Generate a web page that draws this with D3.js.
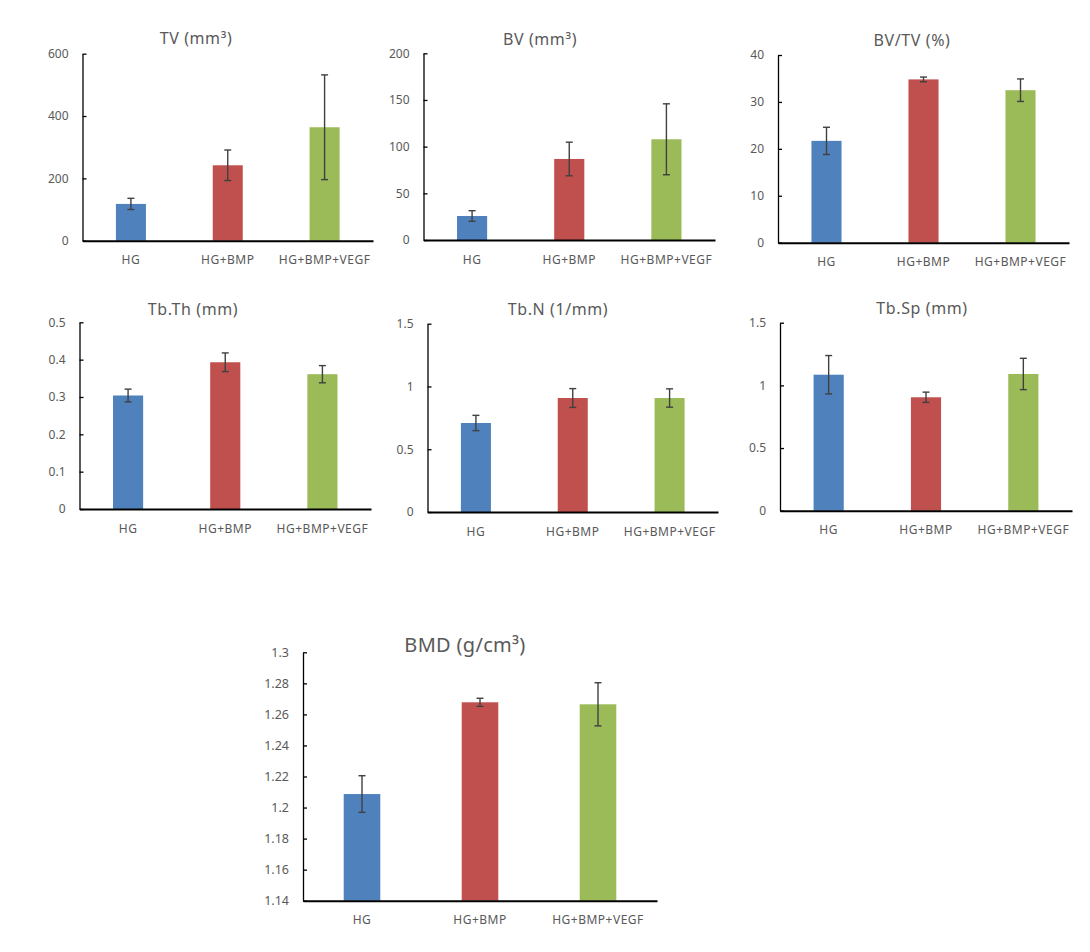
<!DOCTYPE html>
<html>
<head>
<meta charset="utf-8">
<script src="https://cdn.jsdelivr.net/npm/d3@7"></script>
<style>
  html, body { margin: 0; padding: 0; background: #fff; }
  svg { display: block; }
  text { font-family: "Noto Sans", "Open Sans", sans-serif; }
</style>
</head>
<body>
<svg id="chart" width="1090" height="952"></svg>
<script>
// ---------------- data ----------------
const categories = ["HG", "HG+BMP", "HG+BMP+VEGF"];
const colors = ["#4F81BD", "#C0504D", "#9BBB59"];

const titles = ["TV (mm\u00B3)", "BV (mm\u00B3)", "BV/TV (%)", "Tb.Th (mm)", "Tb.N (1/mm)", "Tb.Sp (mm)", "BMD (g/cm\u00B3)"];

const tvMean   = [118, 242, 364];
const tvErr    = [18, 49, 168];
const bvMean   = [25.7, 86.8, 107.9];
const bvErr    = [5.7, 18, 38];
const bvtvMean = [21.7, 34.8, 32.5];
const bvtvErr  = [2.9, 0.5, 2.4];
const tbthMean = [0.304, 0.393, 0.361];
const tbthErr  = [0.017, 0.025, 0.023];
const tbnMean  = [0.709, 0.908, 0.908];
const tbnErr   = [0.061, 0.075, 0.073];
const tbspMean = [1.085, 0.905, 1.091];
const tbspErr  = [0.153, 0.041, 0.125];
const bmdMean  = [1.2087, 1.2678, 1.2665];
const bmdErr   = [0.0118, 0.0026, 0.0139];

const tvTicks   = [0, 200, 400, 600];
const bvTicks   = [0, 50, 100, 150, 200];
const bvtvTicks = [0, 10, 20, 30, 40];
const tbthTicks = [0, 0.1, 0.2, 0.3, 0.4, 0.5];
const tbnTicks  = [0, 0.5, 1, 1.5];
const tbspTicks = [0, 0.5, 1, 1.5];
const bmdTicks  = [1.14, 1.16, 1.18, 1.2, 1.22, 1.24, 1.26, 1.28, 1.3];

const means = [tvMean, bvMean, bvtvMean, tbthMean, tbnMean, tbspMean, bmdMean];
const errs  = [tvErr, bvErr, bvtvErr, tbthErr, tbnErr, tbspErr, bmdErr];
const ticks = [tvTicks, bvTicks, bvtvTicks, tbthTicks, tbnTicks, tbspTicks, bmdTicks];

// ---------------- layout (positions / sizes only) ----------------
const layout = [
  { left: 82.5,  right: 373,  top: 53.7,  bottom: 240.7, titleX: 196, titleY: 44,  titleSize: 16, tickSize: 12,   catSize: 12 },
  { left: 423.5, right: 715,  top: 53.3,  bottom: 240,   titleX: 540, titleY: 45,  titleSize: 16, tickSize: 12,   catSize: 12 },
  { left: 778,   right: 1069, top: 55,    bottom: 242.7, titleX: 912, titleY: 46,  titleSize: 16, tickSize: 12,   catSize: 12 },
  { left: 79.5,  right: 371,  top: 322.3, bottom: 509,   titleX: 193, titleY: 315, titleSize: 16, tickSize: 12,   catSize: 12 },
  { left: 427.5, right: 718,  top: 323.7, bottom: 512,   titleX: 558, titleY: 315, titleSize: 16, tickSize: 12,   catSize: 12 },
  { left: 780,   right: 1072, top: 322.7, bottom: 510.7, titleX: 922, titleY: 314, titleSize: 16, tickSize: 12,   catSize: 12 },
  { left: 303,   right: 657,  top: 652.3, bottom: 900.7, titleX: 465, titleY: 652, titleSize: 20, tickSize: 12.5, catSize: 12 }
];

const svg = d3.select("#chart");
const textColor = "#595959";
const fmt = d => String(+d.toFixed(2));

layout.forEach((L, k) => {
  const g = svg.append("g");
  const dom = ticks[k];
  const y = d3.scaleLinear().domain([dom[0], dom[dom.length - 1]]).range([L.bottom, L.top]);
  const x = d3.scaleBand().domain(categories).range([L.left, L.right]).padding(0);
  const bw = x.bandwidth() * 0.31;

  g.append("text")
    .attr("x", L.titleX).attr("y", L.titleY)
    .attr("text-anchor", "middle")
    .attr("fill", textColor)
    .attr("font-size", L.titleSize)
    .attr("letter-spacing", k === 6 ? 0.3 : 0.6)
    .text(titles[k]);

  g.selectAll("rect.bar").data(means[k]).enter().append("rect")
    .attr("class", "bar")
    .attr("x", (d, i) => x(categories[i]) + x.bandwidth() / 2 - bw / 2)
    .attr("width", bw)
    .attr("y", d => y(d))
    .attr("height", d => y(dom[0]) - y(d))
    .attr("fill", (d, i) => colors[i]);

  const eb = g.selectAll("g.err").data(means[k]).enter().append("g").attr("class", "err");
  const cx = i => x(categories[i]) + x.bandwidth() / 2;
  const cap = 3.5;
  eb.append("line")
    .attr("x1", (d, i) => cx(i)).attr("x2", (d, i) => cx(i))
    .attr("y1", (d, i) => y(d - errs[k][i])).attr("y2", (d, i) => y(d + errs[k][i]));
  eb.append("line")
    .attr("x1", (d, i) => cx(i) - cap).attr("x2", (d, i) => cx(i) + cap)
    .attr("y1", (d, i) => y(d + errs[k][i])).attr("y2", (d, i) => y(d + errs[k][i]));
  eb.append("line")
    .attr("x1", (d, i) => cx(i) - cap).attr("x2", (d, i) => cx(i) + cap)
    .attr("y1", (d, i) => y(d - errs[k][i])).attr("y2", (d, i) => y(d - errs[k][i]));
  eb.selectAll("line").attr("stroke", "#404040").attr("stroke-width", 1.4);

  const ya = g.append("g")
    .attr("transform", `translate(${L.left},0)`)
    .call(d3.axisLeft(y).tickValues(dom).tickFormat(fmt).tickSizeInner(-4).tickSizeOuter(0).tickPadding(14));
  ya.select(".domain").attr("stroke", "#000").attr("stroke-width", 1.3);
  ya.selectAll(".tick line").attr("stroke", "#000").attr("stroke-width", 1.3);
  ya.selectAll(".tick text")
    .attr("fill", textColor)
    .attr("font-size", L.tickSize)
    .attr("font-family", '"Noto Sans", sans-serif');

  const xa = g.append("g")
    .attr("transform", `translate(0,${L.bottom})`)
    .call(d3.axisBottom(x).tickSize(0).tickPadding(15));
  xa.select(".domain").attr("stroke", "#000").attr("stroke-width", 2);
  xa.selectAll(".tick text")
    .attr("fill", textColor)
    .attr("font-size", L.catSize)
    .attr("letter-spacing", 0.5)
    .attr("font-family", '"Noto Sans", sans-serif');
});
</script>
</body>
</html>
